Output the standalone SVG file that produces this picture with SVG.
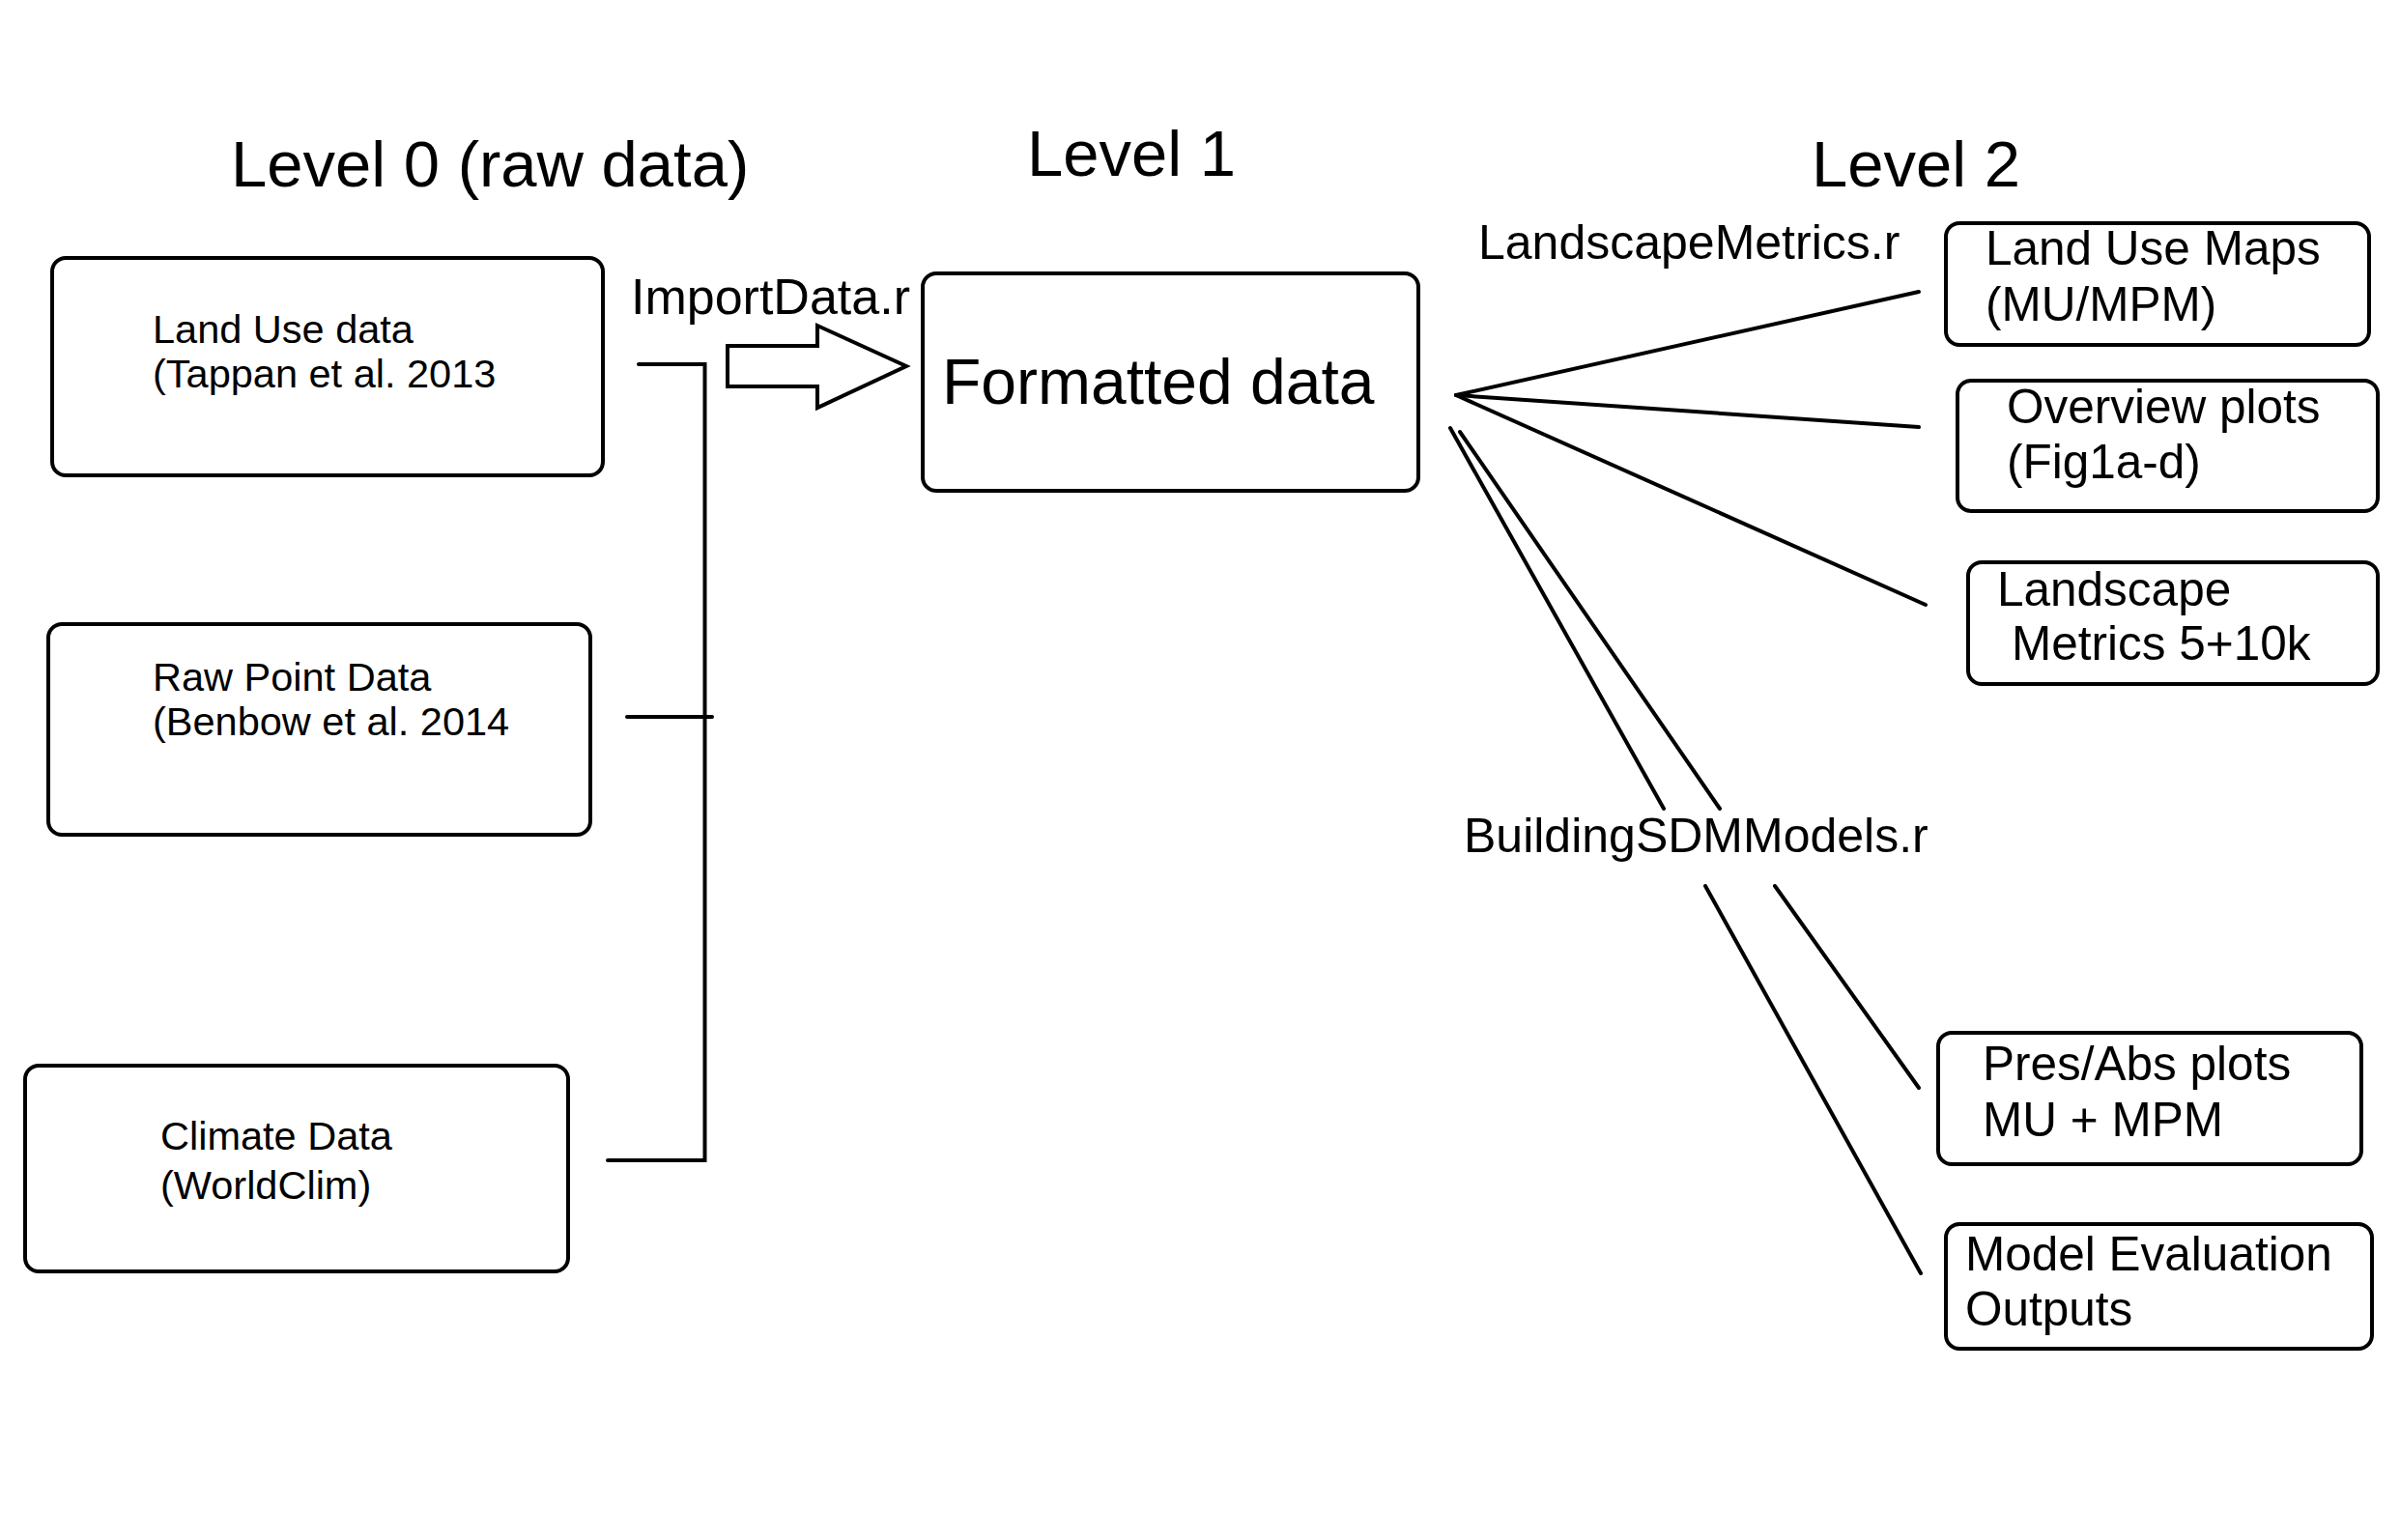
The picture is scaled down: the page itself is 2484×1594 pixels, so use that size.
<svg xmlns="http://www.w3.org/2000/svg" width="2484" height="1594" viewBox="0 0 2484 1594">
<style>
text{font-family:"Liberation Sans",Arial,sans-serif;fill:#000}
.box{fill:#fff;stroke:#000;stroke-width:4}
.ln{stroke:#000;stroke-width:4;fill:none;stroke-linecap:round}
.title{font-size:67px}
.small{font-size:41.5px}
.mid{font-size:49.5px}
.script{font-size:50px}
</style>
<rect width="2484" height="1594" fill="#fff"/>
<g id="titles">
<text class="title" x="239" y="193">Level 0 (raw data)</text>
<text class="title" x="1063" y="182">Level 1</text>
<text class="title" x="1875" y="193">Level 2</text>
</g>
<g id="connectors">
<polyline class="ln" points="661,377 729.5,377 729.5,1201 629,1201"/>
<line class="ln" x1="649" y1="742" x2="737" y2="742"/>
<polygon points="753,358 846,358 846,337 938,379 846,422 846,400 753,400" fill="#fff" stroke="#000" stroke-width="4" stroke-linejoin="miter"/>
<line class="ln" x1="1507" y1="409" x2="1986" y2="302"/>
<line class="ln" x1="1507" y1="409" x2="1986" y2="442"/>
<line class="ln" x1="1507" y1="409" x2="1993" y2="626"/>
<line class="ln" x1="1501" y1="443" x2="1722" y2="837"/>
<line class="ln" x1="1765" y1="917" x2="1988" y2="1318"/>
<line class="ln" x1="1511" y1="447" x2="1780" y2="837"/>
<line class="ln" x1="1837" y1="917" x2="1986" y2="1126"/>
</g>
<g id="script-labels">
<text x="653" y="325" font-size="52">ImportData.r</text>
<text class="script" x="1530" y="268">LandscapeMetrics.r</text>
<text class="script" x="1515" y="882">BuildingSDMModels.r</text>
</g>
<g id="land-use-data">
<rect class="box" x="54" y="267" width="570" height="225" rx="14"/>
<text class="small" x="158" y="355">Land Use data</text>
<text class="small" x="158" y="401">(Tappan et al. 2013</text>
</g>
<g id="raw-point-data">
<rect class="box" x="50" y="646" width="561" height="218" rx="14"/>
<text class="small" x="158" y="715">Raw Point Data</text>
<text class="small" x="158" y="761">(Benbow et al. 2014</text>
</g>
<g id="climate-data">
<rect class="box" x="26" y="1103" width="562" height="213" rx="14"/>
<text class="small" x="166" y="1190">Climate Data</text>
<text class="small" x="166" y="1241">(WorldClim)</text>
</g>
<g id="formatted-data">
<rect class="box" x="955" y="283" width="513" height="225" rx="14"/>
<text x="975" y="418" font-size="66">Formatted data</text>
</g>
<g id="land-use-maps">
<rect class="box" x="2014" y="231" width="438" height="126" rx="14"/>
<text class="mid" x="2055" y="274">Land Use Maps</text>
<text class="mid" x="2055" y="332">(MU/MPM)</text>
</g>
<g id="overview-plots">
<rect class="box" x="2026" y="394" width="435" height="135" rx="14"/>
<text class="mid" x="2077" y="438">Overview plots</text>
<text class="mid" x="2077" y="495">(Fig1a-d)</text>
</g>
<g id="landscape-metrics">
<rect class="box" x="2037" y="582" width="424" height="126" rx="14"/>
<text class="mid" x="2067" y="627">Landscape</text>
<text class="mid" x="2082" y="683">Metrics 5+10k</text>
</g>
<g id="pres-abs-plots">
<rect class="box" x="2006" y="1069" width="438" height="136" rx="14"/>
<text class="mid" x="2052" y="1118">Pres/Abs plots</text>
<text class="mid" x="2052" y="1176">MU + MPM</text>
</g>
<g id="model-evaluation">
<rect class="box" x="2014" y="1267" width="441" height="129" rx="14"/>
<text class="mid" x="2034" y="1315">Model Evaluation</text>
<text class="mid" x="2034" y="1372">Outputs</text>
</g>
</svg>
